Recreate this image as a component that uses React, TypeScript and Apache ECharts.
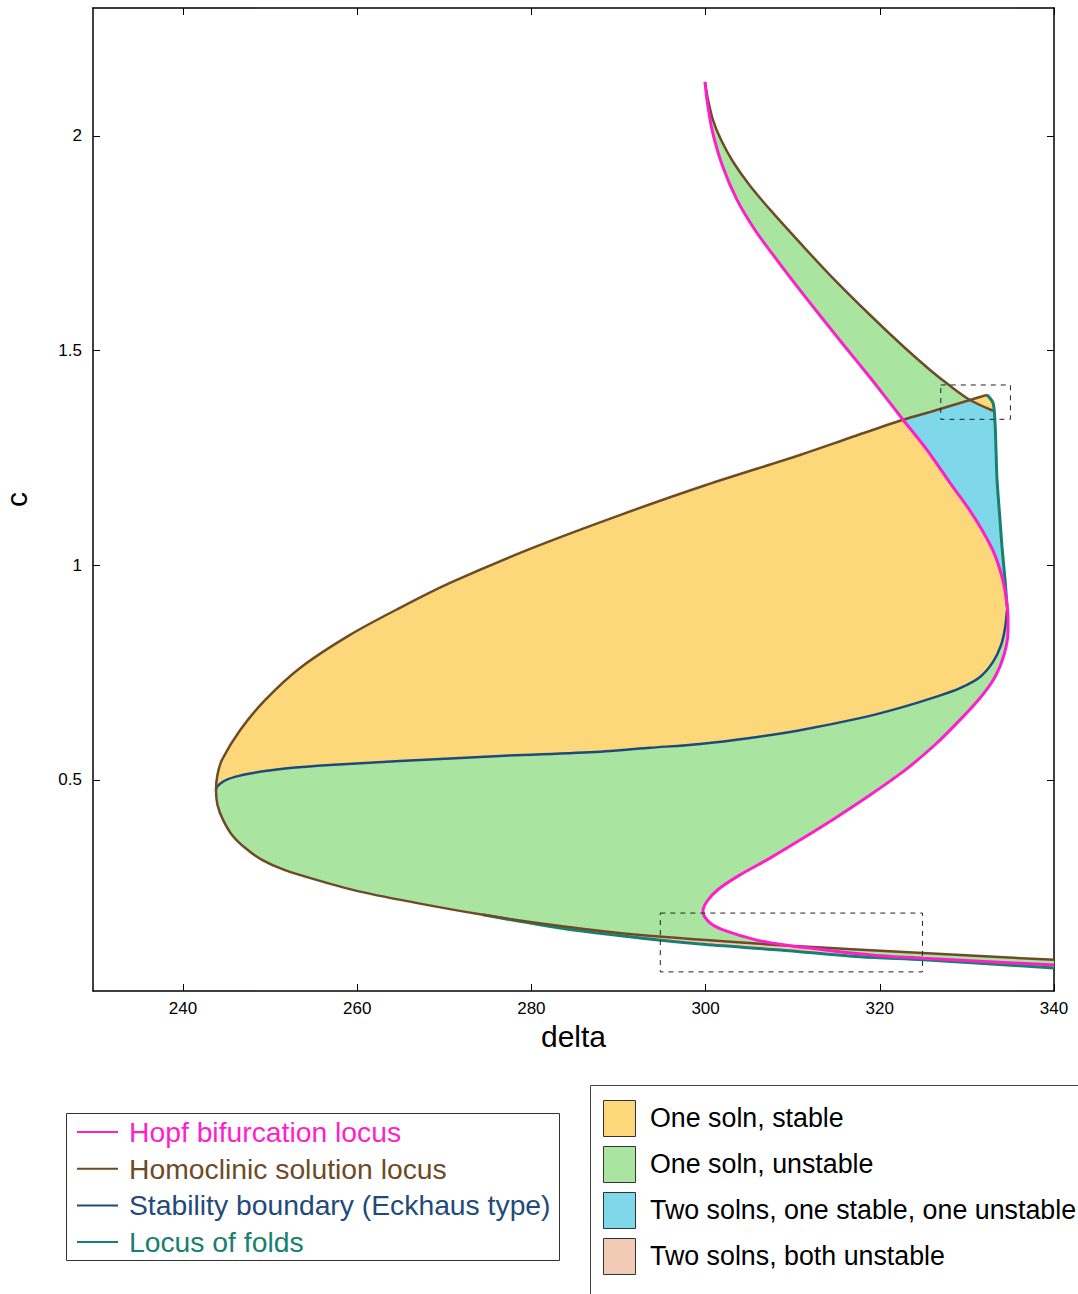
import React, { useEffect, useRef } from "react";
import * as echarts from "echarts";

type P = [number, number];

const X_TICKS = [240, 260, 280, 300, 320, 340];
const Y_TICKS = [0.5, 1, 1.5, 2];

// Hopf bifurcation locus (delta, c)
const hopf: P[] = [
  [299.93, 2.126], [300.16, 2.084], [300.74, 2.014], [301.89, 1.933], [303.61, 1.851],
  [305.67, 1.781], [308.2, 1.711], [310.84, 1.641], [313.37, 1.576], [316.01, 1.509],
  [318.19, 1.455], [320.03, 1.408], [322.67, 1.339], [325.42, 1.269], [328.06, 1.192],
  [330.13, 1.134], [331.74, 1.082], [333.11, 1.029], [334.03, 0.973], [334.49, 0.926],
  [334.72, 0.88], [334.72, 0.845], [334.26, 0.791], [333.23, 0.74], [331.51, 0.691],
  [329.21, 0.64], [326.34, 0.582], [322.9, 0.523], [318.88, 0.465], [314.86, 0.411],
  [310.84, 0.36], [307.4, 0.318], [303.95, 0.279], [301.5, 0.246], [300.15, 0.217],
  [299.7, 0.193], [300.51, 0.167], [302.0, 0.151], [305.9, 0.127], [309.7, 0.114],
  [311.64, 0.109], [319.22, 0.092], [324.96, 0.085], [340.0, 0.069],
];

// Homoclinic solution locus, upper branch
const homoUpper: P[] = [
  [299.93, 2.126], [300.28, 2.084], [300.85, 2.037], [301.77, 1.991], [303.15, 1.94],
  [305.1, 1.884], [307.63, 1.823], [310.84, 1.751], [314.28, 1.676], [318.88, 1.583],
  [322.9, 1.506], [325.77, 1.455], [328.06, 1.418], [330.36, 1.385], [333.0, 1.36],
];

// Homoclinic solution locus, lower branch
const homoLower: P[] = [
  [332.31, 1.397], [330.36, 1.385], [325.77, 1.357], [322.67, 1.339], [316.58, 1.297],
  [310.84, 1.257], [300.05, 1.187], [290.17, 1.117], [280.07, 1.04], [270.66, 0.959],
  [264.92, 0.901], [259.18, 0.838], [253.44, 0.761], [249.42, 0.686], [246.55, 0.616],
  [244.48, 0.547], [243.96, 0.512], [243.79, 0.477], [243.96, 0.442], [244.6, 0.407],
  [245.63, 0.372], [247.12, 0.342], [249.07, 0.314], [251.71, 0.29], [255.73, 0.265],
  [260.32, 0.24], [267.21, 0.212], [274.45, 0.186], [283.29, 0.16], [292.47, 0.139],
  [309.7, 0.114], [324.96, 0.097], [340.0, 0.081],
];

// Stability boundary (Eckhaus type)
const eckhaus: P[] = [
  [334.61, 0.896], [334.38, 0.854], [333.92, 0.814], [333.0, 0.775], [331.51, 0.74],
  [329.21, 0.714], [326.34, 0.693], [322.32, 0.668], [317.73, 0.644], [310.84, 0.616],
  [305.1, 0.598], [299.36, 0.584], [293.62, 0.575], [287.88, 0.566], [276.4, 0.556],
  [264.92, 0.544], [256.88, 0.535], [251.71, 0.527], [249.42, 0.521], [247.7, 0.515],
  [246.32, 0.509], [245.17, 0.502], [244.37, 0.493], [243.91, 0.484], [243.79, 0.477],
];

// Locus of folds, upper and lower parts
const foldsTop: P[] = [
  [332.31, 1.397], [333.0, 1.378], [333.23, 1.332], [333.34, 1.269], [333.46, 1.199],
  [333.8, 1.106], [334.03, 1.043], [334.38, 0.966], [334.61, 0.903],
];
const foldsBottom: P[] = [
  [274.45, 0.186], [283.29, 0.155], [292.47, 0.132], [299.36, 0.118], [308.54, 0.104],
  [317.73, 0.088], [324.96, 0.081], [340.0, 0.062],
];

// Dashed inset boxes [x1, y1, x2, y2]
const boxes: number[][] = [
  [327.0, 1.34, 335.0, 1.42],
  [294.8, 0.053, 324.9, 0.19],
];

const LINE_LEGEND = [
  "Hopf bifurcation locus",
  "Homoclinic solution locus",
  "Stability boundary (Eckhaus type)",
  "Locus of folds",
];
const REGION_LEGEND = [
  "One soln, stable",
  "One soln, unstable",
  "Two solns, one stable, one unstable",
  "Two solns, both unstable",
];

const C_HOPF = "#ff1ecb";
const C_HOMO = "#6e4b27";
const C_ECK = "#1f4a7a";
const C_FOLD = "#178070";
const LINE_COLORS = [C_HOPF, C_HOMO, C_ECK, C_FOLD];

const F_YELLOW = "#fcd87a";
const F_GREEN = "#a9e4a1";
const F_BLUE = "#7fd8ea";
const F_PEACH = "#f2cbb7";
const REGION_COLORS = [F_YELLOW, F_GREEN, F_BLUE, F_PEACH];

const FONT = '"Liberation Sans", Arial, Helvetica, sans-serif';

// structural indices into the curves above
const H_CROSS_UP = 12;
const H_FOLD = 19;
const H_BELOW = 20;
const H_CROSS_LOW = 39;
const H_END = hopf.length - 1;
const HU_CROSS = 13;
const HU_END = homoUpper.length - 1;
const HL_CROSS = 3;
const HL_NOSE = 17;
const HL_TEAL = 27;
const HL_CROSS_LOW = 30;
const HL_END = homoLower.length - 1;
const E_END = eckhaus.length - 1;
const FT_END = foldsTop.length - 1;
const FB_END = foldsBottom.length - 1;

function seg(arr: P[], from: number, to: number): P[] {
  const out: P[] = [];
  if (from <= to) for (let i = from; i <= to; i++) out.push(arr[i]);
  else for (let i = from; i >= to; i--) out.push(arr[i]);
  return out;
}

const regions: { color: string; pts: P[] }[] = [
  { color: F_GREEN, pts: [...seg(hopf, 0, H_CROSS_UP), ...seg(homoLower, HL_CROSS, 1), ...seg(homoUpper, HU_CROSS, 0)] },
  { color: F_YELLOW, pts: [homoLower[1], homoLower[0], foldsTop[1], homoUpper[HU_END], homoUpper[HU_CROSS]] },
  { color: F_BLUE, pts: [...seg(homoLower, HL_CROSS, 1), ...seg(homoUpper, HU_CROSS, HU_END), ...seg(foldsTop, 2, FT_END), ...seg(hopf, H_FOLD, H_CROSS_UP)] },
  { color: F_YELLOW, pts: [...seg(homoLower, HL_CROSS, HL_NOSE), ...seg(eckhaus, E_END - 1, 0), ...seg(hopf, H_FOLD, H_CROSS_UP)] },
  { color: F_GREEN, pts: [...seg(homoLower, HL_NOSE, HL_CROSS_LOW), ...seg(hopf, H_CROSS_LOW, H_BELOW), ...seg(eckhaus, 0, E_END)] },
  { color: F_PEACH, pts: [...seg(homoLower, HL_TEAL, HL_END), ...seg(foldsBottom, FB_END, 0)] },
  { color: F_GREEN, pts: [...seg(homoLower, HL_CROSS_LOW, HL_END), ...seg(hopf, H_END, H_CROSS_LOW)] },
];

function lineSeries(name: string, data: P[], color: string, width: number) {
  return {
    type: "line",
    name,
    data,
    showSymbol: false,
    symbol: "none",
    smooth: 0.3,
    lineStyle: { color, width },
    z: 5,
    silent: true,
  };
}

export default function App() {
  const ref = useRef<HTMLDivElement>(null);

  useEffect(() => {
    if (!ref.current) return;
    const chart = echarts.init(ref.current, undefined, { renderer: "svg" });

    const axisCommon = {
      type: "value",
      splitLine: { show: false },
      axisLine: { show: true, onZero: false, lineStyle: { color: "#000", width: 1.5 } },
    };

    const graphic: any[] = [];
    graphic.push({
      type: "rect",
      shape: { x: 66.5, y: 1113.5, width: 493, height: 147 },
      style: { fill: "#fff", stroke: "#333", lineWidth: 1 },
    });
    LINE_LEGEND.forEach((t, i) => {
      const y = 1132 + i * 36.7;
      graphic.push({
        type: "line",
        shape: { x1: 77, y1: y, x2: 118, y2: y },
        style: { stroke: LINE_COLORS[i], lineWidth: 2 },
      });
      graphic.push({
        type: "text",
        x: 129,
        y,
        style: { text: t, fill: LINE_COLORS[i], fontSize: 28.3, fontFamily: FONT, verticalAlign: "middle", align: "left" },
      });
    });
    graphic.push({
      type: "rect",
      shape: { x: 590.5, y: 1085.5, width: 600, height: 300 },
      style: { fill: "#fff", stroke: "#444", lineWidth: 1 },
    });
    REGION_LEGEND.forEach((t, i) => {
      const y0 = 1100 + i * 46;
      graphic.push({
        type: "rect",
        shape: { x: 603.5, y: y0 + 0.5, width: 32, height: 36 },
        style: { fill: REGION_COLORS[i], stroke: "#333", lineWidth: 1 },
      });
      graphic.push({
        type: "text",
        x: 650,
        y: y0 + 18,
        style: { text: t, fill: "#000", fontSize: 26.8, fontFamily: FONT, verticalAlign: "middle", align: "left" },
      });
    });

    chart.setOption({
      animation: false,
      backgroundColor: "#fff",
      grid: { left: 93, right: 24, top: 8, bottom: 303, containLabel: false, outerBoundsMode: "none" },
      xAxis: [
        {
          ...axisCommon,
          min: 229.67,
          max: 340,
          position: "bottom",
          name: "delta",
          nameLocation: "middle",
          nameGap: 28,
          nameTextStyle: { fontSize: 30, color: "#000", fontFamily: FONT },
          axisTick: { show: true, inside: true, length: 7, customValues: X_TICKS, lineStyle: { color: "#000" } },
          axisLabel: { customValues: X_TICKS, fontSize: 17, color: "#000", margin: 9, fontFamily: FONT },
        },
        {
          ...axisCommon,
          min: 229.67,
          max: 340,
          position: "top",
          axisTick: { show: true, inside: true, length: 7, customValues: X_TICKS, lineStyle: { color: "#000" } },
          axisLabel: { show: false },
        },
      ],
      yAxis: [
        {
          ...axisCommon,
          min: 0.0085,
          max: 2.298,
          position: "left",
          name: "c",
          nameLocation: "middle",
          nameGap: 62,
          nameTextStyle: { fontSize: 30, color: "#000", fontFamily: FONT },
          axisTick: { show: true, inside: true, length: 7, customValues: Y_TICKS, lineStyle: { color: "#000" } },
          axisLabel: { customValues: Y_TICKS, fontSize: 17, color: "#000", margin: 11, fontFamily: FONT },
        },
        {
          ...axisCommon,
          min: 0.0085,
          max: 2.298,
          position: "right",
          axisTick: { show: true, inside: true, length: 7, customValues: Y_TICKS, lineStyle: { color: "#000" } },
          axisLabel: { show: false },
        },
      ],
      series: [
        {
          type: "custom",
          name: "regions",
          clip: true,
          silent: true,
          z: 1,
          data: regions.map((r) => r.pts[0]),
          renderItem: (params: any, api: any) => {
            const r = regions[params.dataIndex];
            const points = r.pts.map((p) => api.coord(p));
            return {
              type: "polygon",
              shape: { points },
              style: { fill: r.color, stroke: r.color, lineWidth: 0.6 },
            };
          },
        },
        {
          type: "custom",
          name: "boxes",
          clip: true,
          silent: true,
          z: 8,
          encode: { x: [0, 2], y: [1, 3] },
          data: boxes,
          renderItem: (params: any, api: any) => {
            const a = api.coord([api.value(0), api.value(3)]);
            const b = api.coord([api.value(2), api.value(1)]);
            return {
              type: "rect",
              shape: { x: a[0], y: a[1], width: b[0] - a[0], height: b[1] - a[1] },
              style: { fill: "none", stroke: "#222", lineWidth: 1, lineDash: [5, 5] },
            };
          },
        },
        lineSeries("Stability boundary (Eckhaus type)", eckhaus, C_ECK, 2.5),
        lineSeries("Locus of folds (top)", foldsTop, C_FOLD, 3),
        lineSeries("Locus of folds (bottom)", foldsBottom, C_FOLD, 3),
        lineSeries("Homoclinic solution locus (upper)", homoUpper, C_HOMO, 2.5),
        lineSeries("Homoclinic solution locus (lower)", homoLower, C_HOMO, 2.5),
        lineSeries("Hopf bifurcation locus", hopf, C_HOPF, 3),
      ],
      graphic,
    });

    return () => chart.dispose();
  }, []);

  return (
    <div
      ref={ref}
      style={{ position: "absolute", left: 0, top: 0, width: 1078, height: 1294 }}
    />
  );
}
